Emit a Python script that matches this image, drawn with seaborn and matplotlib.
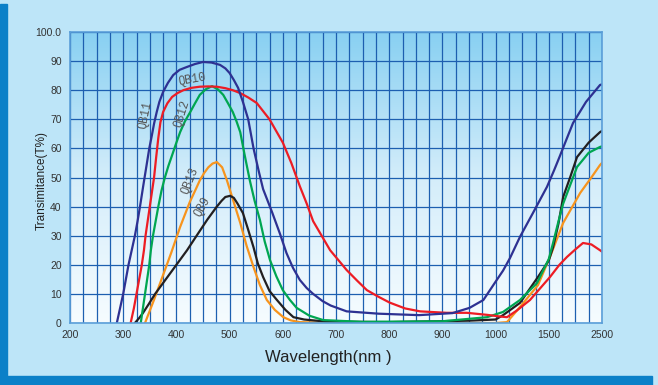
import numpy as np
import pandas as pd
import matplotlib
matplotlib.use('Agg')
import matplotlib.pyplot as plt
import seaborn as sns
from matplotlib.colors import LinearSegmentedColormap
from matplotlib.patches import Rectangle
from matplotlib.ticker import FixedLocator, FixedFormatter

# values (wavelength nm, transmittance %)
qb11_wl = [288, 294, 300, 305, 310, 316, 322, 327, 332, 338, 344, 349, 354, 358, 363, 368, 375, 384, 394, 406,
           420, 435, 450, 466, 482, 492, 500, 508, 516, 525, 535, 545, 555, 563, 580, 595, 607, 619, 632, 645,
           657, 675, 690, 720, 780, 856, 919, 951, 977, 1000, 1070, 1135, 1229, 1351, 1483, 1600, 1700,
           1830, 1955, 2200, 2463, 2500]
qb11_t = [0, 5, 10, 15, 20, 25, 30, 35, 40.5, 47.5, 54.3, 60, 64.6, 68.5, 72.5, 76, 79.4, 82.5, 85.2, 87,
          88, 89, 89.7, 89.5, 88.7, 87.5, 85.9, 83.5, 80.8, 76, 70, 60, 52, 46, 38, 30.5, 24, 19, 14.8, 12,
          10, 7.5, 6, 4, 3.2, 2.7, 3.4, 5.2, 7.9, 14.2, 18, 22.3, 29.6, 37.8, 46.8, 52.5, 57,
          63, 68.7, 76, 81.8, 82]

qb10_wl = [314, 320, 325, 330, 335, 339, 342, 346, 350, 354, 358, 362, 366, 370, 375, 383, 392, 402, 413, 428,
           444, 460, 476, 492, 506, 520, 535, 551, 575, 600, 616, 632, 645, 657, 673, 689, 705, 720, 740, 758,
           780, 801, 830, 858, 908, 946, 984, 1050, 1107, 1200, 1323, 1522, 1700, 1842, 2000, 2143, 2300,
           2463, 2500]
qb10_t = [0, 5, 10, 15, 20, 25, 30, 35, 40, 45, 50, 57, 63.6, 69, 72.5, 75.5, 77.7, 79, 80, 80.8,
          81.2, 81.3, 81.2, 80.7, 80, 79, 77.5, 75.6, 70, 62, 55, 47, 41, 35, 30, 25, 21.5, 18.2, 14.5, 11.3,
          9, 7, 5, 4, 3.5, 3.5, 2.8, 2.2, 2, 4.3, 7.9, 15.8, 20, 22.7, 25.3, 27.5, 27,
          25, 24.5]

qb12_wl = [333, 337, 341, 345, 349, 352, 356, 361, 366, 372, 378, 385, 392, 400, 407, 416, 426, 435, 444, 455,
           467, 478, 488, 497, 506, 513, 520, 528, 538, 547, 557, 566, 576, 588, 600, 613, 626, 650, 676, 750,
           900, 984, 1070, 1229, 1389, 1500, 1580, 1680, 1770, 1900, 2030, 2250, 2463, 2500]
qb12_t = [0, 5, 10, 15, 20, 25, 30, 35, 40, 45.5, 49.8, 54, 57.7, 62, 65.6, 69.3, 72.5, 75.5, 78.4, 80.3,
          81.4, 80.3, 78.4, 75.5, 72.5, 69.3, 65.6, 58, 49, 42, 35.4, 28, 21.6, 16, 11.3, 8, 5.2, 2.5, 1, 0.4,
          0.6, 2, 3.8, 7.9, 13.7, 22, 27.5, 34.8, 41, 47.3, 53.6, 58.5, 60.5, 60.7]

qb13_wl = [341, 358, 375, 390, 407, 425, 435, 444, 452, 460, 468, 476, 486, 495, 507, 520, 532, 545,
           557, 570, 585, 601, 615, 632, 700, 1000, 1107, 1229, 1398, 1522, 1770, 2090, 2300, 2463, 2500]
qb13_t = [0, 8, 16.5, 24, 33, 41.5, 45.4, 49, 51.5, 53.5, 54.8, 55.3, 53.5, 49, 42, 34.4, 26.5, 19.2,
          13, 7.9, 4.5, 2, 0.9, 0.3, 0, 0, 0.3, 5.5, 13, 22.7, 34.4, 44.7, 50, 54.3, 55]

qb9_wl = [322, 330, 337, 348, 360, 380, 400, 420, 438, 458, 476, 485, 492, 501, 508, 515, 525, 535, 545, 553,
          563, 575, 589, 605, 620, 640, 680, 800, 950, 1000, 1070, 1229, 1398, 1500, 1580, 1680, 1770, 1900,
          2030, 2250, 2463, 2500]
qb9_t = [0, 1.7, 3.4, 6.5, 10, 15, 20, 25, 30, 35.5, 40, 42, 43.3, 43.7, 43, 41, 37.8, 32, 26, 20.5,
         15.8, 11, 7.9, 4.5, 2, 1.2, 0.5, 0.3, 0.8, 1.2, 2.7, 6.9, 15.8, 21.5, 26, 34, 43.3, 50,
         57, 62, 65.6, 66]

x_ticks = [200, 300, 400, 500, 600, 700, 800, 900, 1000, 1500, 2500]
y_ticks = [0, 10, 20, 30, 40, 50, 60, 70, 80, 90, 100]
y_labels = ['0', '10', '20', '30', '40', '50', '60', '70', '80', '90', '100.0']

colors = {'QB13': '#f7941d', 'QB9': '#231f20', 'QB12': '#00a651', 'QB10': '#ed1c24', 'QB11': '#2e3192'}

# curve name labels: (name, wavelength, value, rotation)
curve_labels = [('QB11', 341, 71.5, 78), ('QB10', 430, 83.5, 10), ('QB12', 410, 72, 72),
                ('QB13', 425, 49, 68), ('QB9', 448, 40, 60)]


# the wavelength axis is piecewise linear: 200-1000 / 1000-1500 / 1500-2500
seg_wl = [200, 1000, 1500, 2500]
seg_pos = [0, 32, 36, 40]


def fwd(x):
    return np.interp(x, seg_wl, seg_pos)


def inv(p):
    return np.interp(p, seg_pos, seg_wl)


def build_frame():
    parts = []
    for name, wl, t in [('QB13', qb13_wl, qb13_t), ('QB9', qb9_wl, qb9_t), ('QB12', qb12_wl, qb12_t),
                        ('QB10', qb10_wl, qb10_t), ('QB11', qb11_wl, qb11_t)]:
        parts.append(pd.DataFrame({'filter': name, 'wavelength': wl, 'T': t}))
    return pd.concat(parts, ignore_index=True)


def main():
    sns.set_style('white')
    plt.rcParams['font.family'] = ['Liberation Sans', 'DejaVu Sans']

    fig = plt.figure(figsize=(6.58, 3.85), dpi=100)
    fig.patch.set_facecolor('#bde5f8')
    fig.patches.append(Rectangle((0, 0), 7 / 658, 381 / 385, transform=fig.transFigure,
                                 color='#0b80c8', zorder=0))
    fig.patches.append(Rectangle((0, 0), 652 / 658, 9 / 385, transform=fig.transFigure,
                                 color='#0b80c8', zorder=0))

    rect = [70 / 658, 62 / 385, 532 / 658, 291 / 385]
    bg = fig.add_axes(rect, zorder=0)
    grad = np.linspace(1, 0, 256).reshape(-1, 1)
    cmap = LinearSegmentedColormap.from_list('bg', ['#f6fcff', '#d4edfa', '#88d0f2'])
    bg.imshow(grad, aspect='auto', extent=[0, 1, 0, 1], cmap=cmap)
    bg.axis('off')

    ax = fig.add_axes(rect, zorder=1)
    ax.patch.set_alpha(0)
    ax.set_xscale('function', functions=(fwd, inv))

    df = build_frame()
    sns.lineplot(data=df, x='wavelength', y='T', hue='filter', palette=colors, estimator=None,
                 legend=False, linewidth=1.6, ax=ax)
    for ln in ax.lines:
        ln.set_solid_joinstyle('round')

    ax.set_xlim(200, 2500)
    ax.set_ylim(0, 100)

    minor = list(np.arange(200, 1000, 25)) + [1125, 1250, 1375, 1750, 2000, 2250]
    ax.xaxis.set_major_locator(FixedLocator(x_ticks))
    ax.xaxis.set_major_formatter(FixedFormatter([str(v) for v in x_ticks]))
    ax.xaxis.set_minor_locator(FixedLocator(minor))
    ax.yaxis.set_major_locator(FixedLocator(y_ticks))
    ax.yaxis.set_major_formatter(FixedFormatter(y_labels))

    ax.grid(True, which='both', axis='x', color='#1d5fb0', linewidth=0.9)
    ax.grid(True, which='major', axis='y', color='#1d5fb0', linewidth=0.9)
    ax.set_axisbelow(True)
    ax.tick_params(which='both', length=0, labelsize=7.5, colors='#333333')
    ax.tick_params(axis='x', pad=5)
    ax.tick_params(axis='y', pad=6)
    for s in ax.spines.values():
        s.set_color('#5b9fd9')
        s.set_linewidth(1.2)

    ax.set_xlabel('Wavelength(nm )', fontsize=12, color='#222222', va='center')
    ax.xaxis.set_label_coords(0.485, -0.117)
    ax.set_ylabel('Transimitance(T%)', fontsize=8.5, color='#222222', va='center')
    ax.yaxis.set_label_coords(-0.053, 0.488)

    for name, wl, t, rot in curve_labels:
        ax.text(wl, t, name, rotation=rot, fontsize=8.5, color='#555555', ha='center', va='center',
                family=['Liberation Mono', 'DejaVu Sans Mono'])

    fig.savefig('out.png', dpi=100, facecolor=fig.get_facecolor())


if __name__ == "__main__":
    main()
